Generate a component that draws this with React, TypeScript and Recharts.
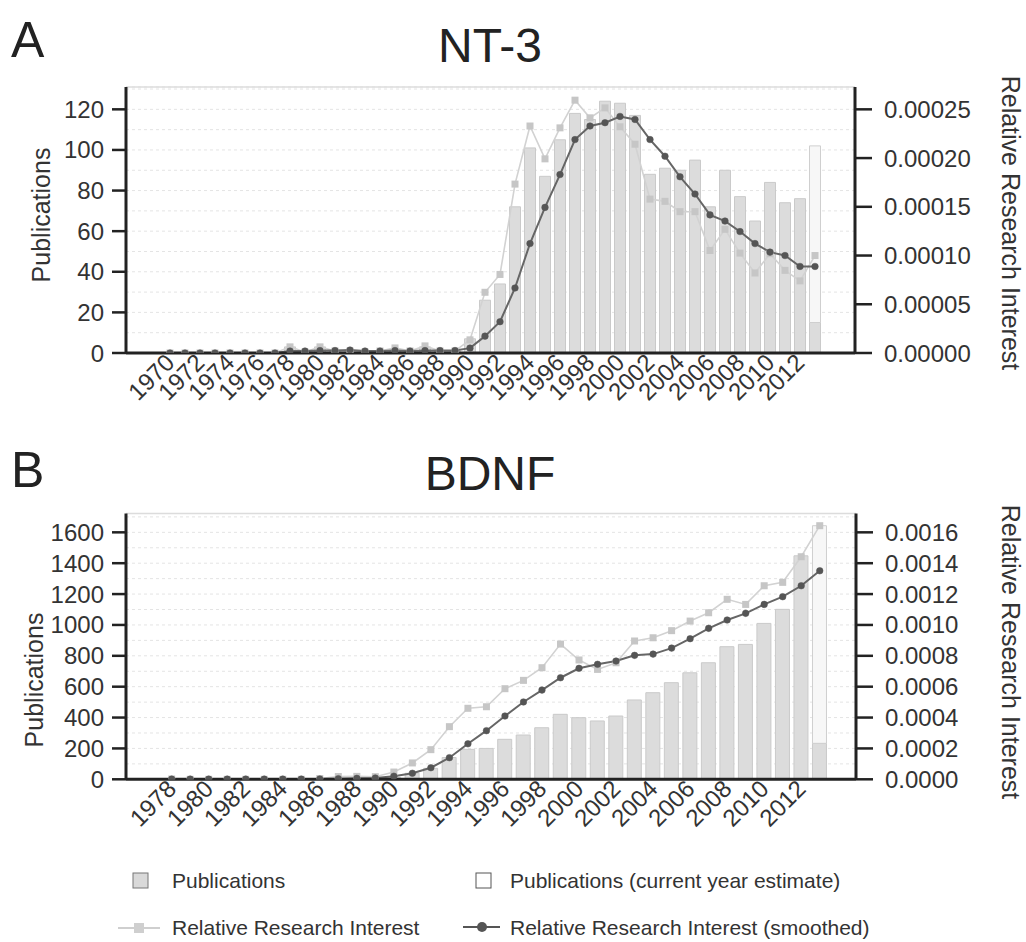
import {
  ComposedChart,
  Bar,
  Line,
  XAxis,
  YAxis,
  CartesianGrid,
  ReferenceLine,
} from "recharts";

// ---- NT-3 (panel A) ----
const ntYears = [
  1970, 1971, 1972, 1973, 1974, 1975, 1976, 1977, 1978, 1979, 1980, 1981,
  1982, 1983, 1984, 1985, 1986, 1987, 1988, 1989, 1990, 1991, 1992, 1993,
  1994, 1995, 1996, 1997, 1998, 1999, 2000, 2001, 2002, 2003, 2004, 2005,
  2006, 2007, 2008, 2009, 2010, 2011, 2012, 2013,
];
const ntPubs = [
  0, 0, 0, 0, 0, 0, 0, 0, 3, 0, 3, 1, 1, 0, 1, 2, 1, 3, 1, 1, 7, 26, 34, 72,
  101, 87, 105, 118, 115, 124, 123, 117, 88, 91, 90, 95, 72, 90, 77, 65, 84,
  74, 76, 15,
];
const ntEstimate: Record<number, number> = { 2013: 102 };
const ntRri = [
  0, 0, 0, 0, 0, 0, 0, 0, 0.0000063, 0.000001, 0.0000063, 0.0000021,
  0.0000021, 0.000001, 0.0000021, 0.0000052, 0.0000021, 0.0000073, 0.0000021,
  0.0000021, 0.0000135, 0.0000623, 0.0000806, 0.0001733, 0.0002329, 0.0001992,
  0.000231, 0.0002594, 0.0002413, 0.0002515, 0.0002321, 0.0002142, 0.0001579,
  0.0001556, 0.000145, 0.000145, 0.0001052, 0.0001269, 0.0001025, 0.0000821,
  0.0001019, 0.0000848, 0.000074, 0.0001,
];
const ntSmooth = [
  0, 0, 0, 0, 0, 0, 0, 0, 0.000002, 0.000002, 0.0000025, 0.0000025, 0.000003,
  0.000002, 0.000002, 0.0000025, 0.000002, 0.0000025, 0.0000025, 0.0000025,
  0.000005, 0.0000173, 0.0000321, 0.0000667, 0.0001123, 0.0001494, 0.0001831,
  0.000219, 0.0002329, 0.0002363, 0.0002427, 0.0002396, 0.000219, 0.0002019,
  0.0001808, 0.0001631, 0.0001417, 0.0001354, 0.0001246, 0.0001123, 0.0001035,
  0.0001, 0.0000888, 0.0000888,
];
const ntLeftTicks = [0, 20, 40, 60, 80, 100, 120];
const ntGridTicks = [10, 20, 30, 40, 50, 60, 70, 80, 90, 100, 110, 120, 130];
const ntRightTicks = [0, 0.00005, 0.0001, 0.00015, 0.0002, 0.00025];

// ---- BDNF (panel B) ----
const bdYears = [
  1978, 1979, 1980, 1981, 1982, 1983, 1984, 1985, 1986, 1987, 1988, 1989,
  1990, 1991, 1992, 1993, 1994, 1995, 1996, 1997, 1998, 1999, 2000, 2001,
  2002, 2003, 2004, 2005, 2006, 2007, 2008, 2009, 2010, 2011, 2012, 2013,
];
const bdPubs = [
  0, 0, 0, 0, 0, 0, 0, 0, 1, 3, 5, 6, 12, 39, 71, 141, 194, 200, 259, 287,
  334, 421, 399, 378, 410, 514, 561, 626, 690, 755, 859, 874, 1010, 1101,
  1448, 233,
];
const bdEstimate: Record<number, number> = { 2013: 1643 };
const bdRri = [
  0.000002, 0, 0, 0, 0, 0, 0, 0, 0.000005, 0.000018, 0.000019, 0.000017,
  0.000047, 0.000106, 0.000192, 0.000341, 0.00046, 0.00047, 0.000587,
  0.000641, 0.000723, 0.000876, 0.000773, 0.000712, 0.000755, 0.000896,
  0.000917, 0.000963, 0.001025, 0.001079, 0.001166, 0.001133, 0.001254,
  0.001276, 0.001442, 0.001643,
];
const bdSmooth = [
  0.000001, 0.000001, 0.000001, 0.000001, 0.000001, 0.000001, 0.000001,
  0.000001, 0.000002, 0.000004, 0.000006, 0.000008, 0.00002, 0.000039,
  0.000075, 0.00014, 0.00023, 0.000315, 0.00041, 0.000501, 0.000578, 0.000658,
  0.000719, 0.000745, 0.000766, 0.000803, 0.000811, 0.00085, 0.000911,
  0.000978, 0.001032, 0.001075, 0.001133, 0.001183, 0.001254, 0.001351,
];
const bdLeftTicks = [0, 200, 400, 600, 800, 1000, 1200, 1400, 1600];
const bdGridTicks = [
  100, 200, 300, 400, 500, 600, 700, 800, 900, 1000, 1100, 1200, 1300, 1400,
  1500, 1600, 1700,
];
const bdRightTicks = [0, 0.0002, 0.0004, 0.0006, 0.0008, 0.001, 0.0012, 0.0014, 0.0016];

const FONT = "'Liberation Sans', Arial, Helvetica, sans-serif";
const AXIS = "#222";
const TEXT = "#333";

function buildRows(
  years: number[],
  pubs: number[],
  est: Record<number, number>,
  rri: number[],
  smooth: number[]
) {
  return years.map((year, i) => ({
    year,
    pubs: pubs[i],
    est: est[year] != null ? est[year] - pubs[i] : null,
    rri: rri[i],
    smooth: smooth[i],
  }));
}

const YearTick = (props: any) => {
  const { x, y, payload } = props;
  return (
    <g transform={`translate(${x + 6},${y + 11})`}>
      <text transform="rotate(-45)" textAnchor="end" fontSize={24} fill={TEXT}>
        {payload.value}
      </text>
    </g>
  );
};

const SquareDot = (props: any) => {
  const { cx, cy, index } = props;
  if (cx == null || cy == null) return <g key={index} />;
  return (
    <rect key={index} x={cx - 3.5} y={cy - 3.5} width={7} height={7} fill="#c6c6c6" />
  );
};

type PanelProps = {
  rows: ReturnType<typeof buildRows>;
  top: number;
  marginTop: number;
  marginBottom: number;
  marginRight: number;
  leftMax: number;
  rightMax: number;
  leftTicks: number[];
  gridTicks: number[];
  rightTicks: number[];
  rightDigits: number;
  padLeft: number;
  padRight: number;
  barSize: number;
};

function Panel(p: PanelProps) {
  return (
    <div style={{ position: "absolute", left: 0, top: p.top }}>
      <ComposedChart
        width={1026}
        height={430}
        data={p.rows}
        margin={{ top: p.marginTop, left: 46, right: p.marginRight, bottom: p.marginBottom }}
      >
        <CartesianGrid
          yAxisId="grid"
          vertical={false}
          stroke="#e4e4e4"
          strokeDasharray="3 3"
        />
        <ReferenceLine yAxisId="grid" y={p.leftMax} stroke="#dcdcdc" strokeWidth={1.5} />
        <XAxis
          dataKey="year"
          interval={1}
          padding={{ left: p.padLeft, right: p.padRight }}
          height={70}
          tickLine={false}
          tickSize={0}
          tickMargin={0}
          axisLine={{ stroke: AXIS, strokeWidth: 3 }}
          tick={<YearTick />}
        />
        <YAxis
          yAxisId="left"
          domain={[0, p.leftMax]}
          ticks={p.leftTicks}
          interval={0}
          allowDataOverflow
          width={80}
          tickSize={14}
          tickMargin={8}
          axisLine={{ stroke: AXIS, strokeWidth: 3 }}
          tickLine={{ stroke: AXIS, strokeWidth: 2.5 }}
          tick={{ fontSize: 24, fill: TEXT }}
        />
        <YAxis
          yAxisId="grid"
          orientation="right"
          hide
          width={0}
          interval={0}
          domain={[0, p.leftMax]}
          ticks={p.gridTicks}
          allowDataOverflow
        />
        <YAxis
          yAxisId="right"
          orientation="right"
          domain={[0, p.rightMax]}
          ticks={p.rightTicks}
          interval={0}
          allowDataOverflow
          width={130}
          tickSize={17}
          tickMargin={12}
          axisLine={{ stroke: AXIS, strokeWidth: 3 }}
          tickLine={{ stroke: AXIS, strokeWidth: 2.5 }}
          tick={{ fontSize: 24, fill: TEXT, textAnchor: "start" }}
          tickFormatter={(v: number) => v.toFixed(p.rightDigits)}
        />
        <Bar
          yAxisId="left"
          dataKey="pubs"
          stackId="p"
          barSize={p.barSize}
          fill="#dcdcdc"
          stroke="#cacaca"
          strokeWidth={1}
          isAnimationActive={false}
        />
        <Bar
          yAxisId="left"
          dataKey="est"
          stackId="p"
          barSize={p.barSize}
          fill="#f7f7f7"
          stroke="#cfcfcf"
          strokeWidth={1}
          isAnimationActive={false}
        />
        <Line
          yAxisId="right"
          dataKey="rri"
          stroke="#d2d2d2"
          strokeWidth={1.6}
          dot={<SquareDot />}
          isAnimationActive={false}
        />
        <Line
          yAxisId="right"
          dataKey="smooth"
          stroke="#666"
          strokeWidth={2}
          dot={{ r: 3.3, fill: "#555", stroke: "#555", strokeWidth: 0.5 }}
          isAnimationActive={false}
        />
      </ComposedChart>
    </div>
  );
}

const ntRows = buildRows(ntYears, ntPubs, ntEstimate, ntRri, ntSmooth);
const bdRows = buildRows(bdYears, bdPubs, bdEstimate, bdRri, bdSmooth);

export default function App() {
  return (
    <div
      style={{
        position: "absolute",
        left: 0,
        top: 0,
        width: 1026,
        height: 942,
        background: "#fff",
        fontFamily: FONT,
      }}
    >
      <Panel
        rows={ntRows}
        top={0}
        marginTop={87}
        marginBottom={7}
        marginRight={41}
        leftMax={131}
        rightMax={0.00027292}
        leftTicks={ntLeftTicks}
        gridTicks={ntGridTicks}
        rightTicks={ntRightTicks}
        rightDigits={5}
        padLeft={36.5}
        padRight={32.5}
        barSize={11}
      />
      <Panel
        rows={bdRows}
        top={430}
        marginTop={83.5}
        marginBottom={10.7}
        marginRight={40}
        leftMax={1722}
        rightMax={0.001722}
        leftTicks={bdLeftTicks}
        gridTicks={bdGridTicks}
        rightTicks={bdRightTicks}
        rightDigits={4}
        padLeft={36.4}
        padRight={27}
        barSize={14}
      />
      <svg
        width={1026}
        height={942}
        style={{ position: "absolute", left: 0, top: 0, pointerEvents: "none" }}
        fontFamily={FONT}
      >
        <text x={11} y={57} fontSize={50} fill="#222">A</text>
        <text x={490} y={62} fontSize={48} fill="#222" textAnchor="middle">NT-3</text>
        <text x={11} y={487} fontSize={50} fill="#222">B</text>
        <text x={490} y={490} fontSize={48} fill="#222" textAnchor="middle">BDNF</text>

        <text transform="translate(50,215) rotate(-90)" textAnchor="middle" fontSize={25} fill={TEXT}>
          Publications
        </text>
        <text transform="translate(1001.5,223) rotate(90)" textAnchor="middle" fontSize={25} fill={TEXT}>
          Relative Research Interest
        </text>
        <text transform="translate(43,680) rotate(-90)" textAnchor="middle" fontSize={25} fill={TEXT}>
          Publications
        </text>
        <text transform="translate(1001.5,652) rotate(90)" textAnchor="middle" fontSize={25} fill={TEXT}>
          Relative Research Interest
        </text>

        <rect x={133} y={873} width={15} height={15} fill="#d9d9d9" stroke="#777" strokeWidth={1} />
        <text x={172} y={888} fontSize={21} fill={TEXT}>Publications</text>
        <rect x={476} y={873} width={15} height={15} fill="#fff" stroke="#555" strokeWidth={1} />
        <text x={510} y={888} fontSize={21} fill={TEXT}>Publications (current year estimate)</text>

        <line x1={118} x2={160} y1={928} y2={928} stroke="#cfcfcf" strokeWidth={2} />
        <rect x={134} y={923} width={10} height={10} fill="#cfcfcf" />
        <text x={172} y={935} fontSize={21} fill={TEXT}>Relative Research Interest</text>
        <line x1={463} x2={500} y1={927} y2={927} stroke="#555" strokeWidth={2} />
        <circle cx={482} cy={927} r={5} fill="#555" />
        <text x={510} y={935} fontSize={21} fill={TEXT}>Relative Research Interest (smoothed)</text>
      </svg>
    </div>
  );
}
